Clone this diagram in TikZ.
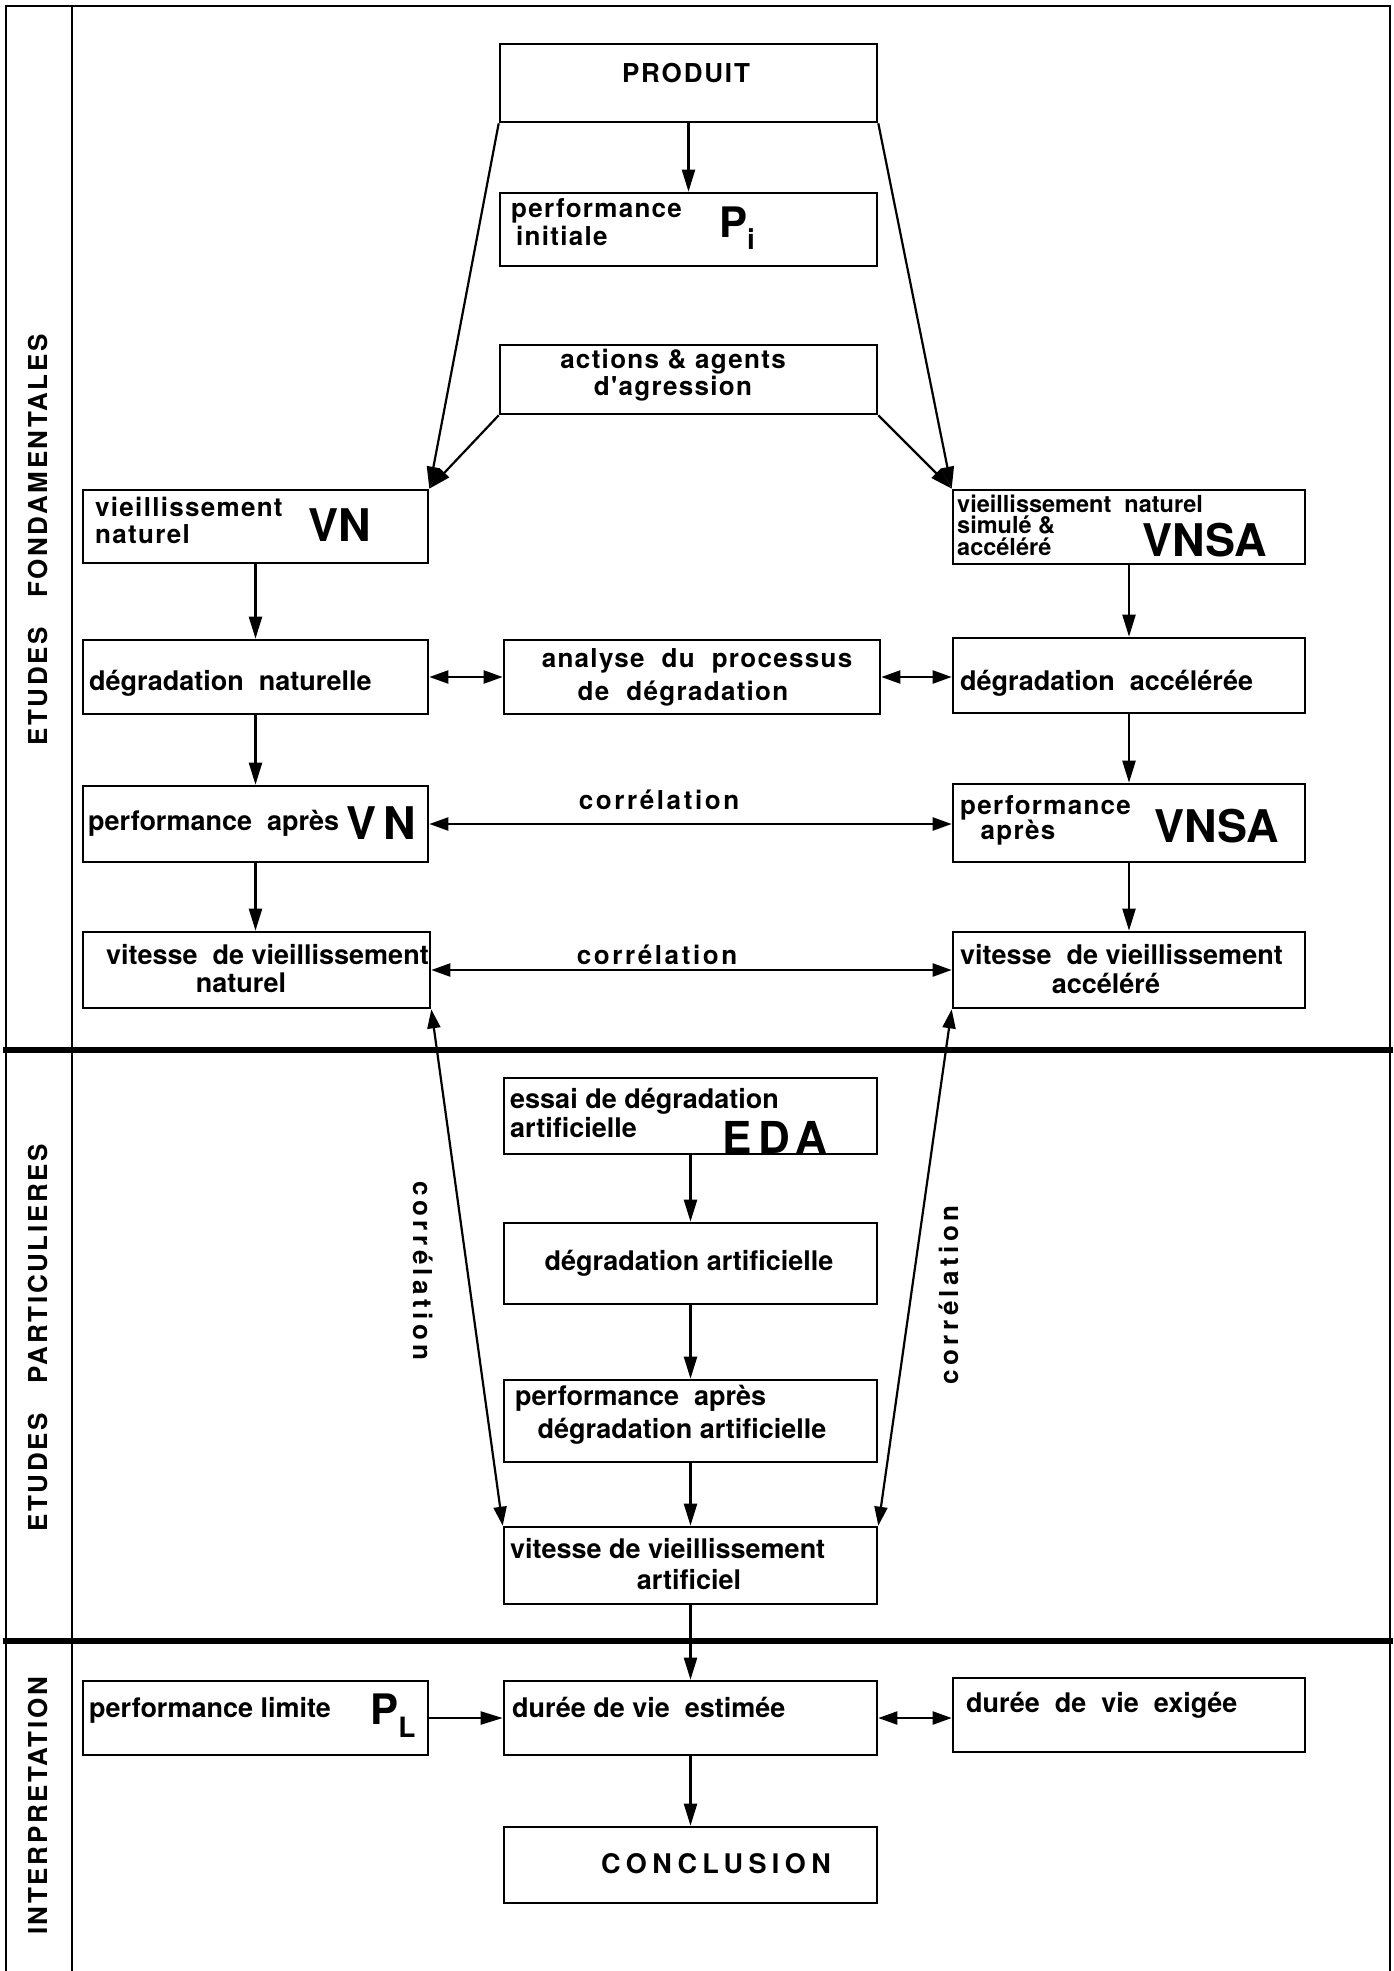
\documentclass[tikz,border=0pt]{standalone}
\usepackage{fontspec}
\setmainfont{TeX Gyre Heros}
\newfontfamily\hvsp{TeX Gyre Heros}[LetterSpace=5]
\newfontfamily\hvcor{TeX Gyre Heros}[LetterSpace=10]
\newfontfamily\hvrot{TeX Gyre Heros}[LetterSpace=17]
\newfontfamily\hvside{TeX Gyre Heros}[LetterSpace=10]
\newfontfamily\hvprod{TeX Gyre Heros}[LetterSpace=7]
\newfontfamily\hveda{TeX Gyre Heros}[LetterSpace=16]
\newfontfamily\hvconc{TeX Gyre Heros}[LetterSpace=20]
\usetikzlibrary{arrows.meta}
\newcommand\mybox[5]{%
  \node[box, minimum width={#4-#2}, minimum height={#5-#3}] (#1) at ({(#2+#4)/2},{(#3+#5)/2}) {};}
\tikzset{
  box/.style={draw, line width=2.6pt, inner sep=0pt},
  tx/.style={inner sep=0pt, font=\fontsize{27}{28}\selectfont\bfseries, align=left},
  txs/.style={inner sep=0pt, font=\hvsp\fontsize{26}{27}\selectfont\bfseries, align=left},
  txv/.style={inner sep=0pt, font=\fontsize{23.5}{23.5}\selectfont\bfseries, anchor=west},
  cor/.style={inner sep=0pt, font=\hvcor\fontsize{26}{27}\selectfont\bfseries},
  rcor/.style={inner sep=0pt, font=\hvrot\fontsize{26}{27}\selectfont\bfseries},
  big/.style={inner sep=0pt, font=\fontsize{45}{45}\selectfont\bfseries},
  side/.style={inner sep=0pt, font=\hvside\fontsize{26}{26}\selectfont\bfseries, rotate=90},
  arr/.style={line width=2.2pt, -{Triangle[length=22pt,width=13pt]}},
  darr/.style={line width=2.2pt, {Triangle[length=19pt,width=13pt]}-{Triangle[length=19pt,width=13pt]}},
  frame/.style={line width=2.6pt},
  sep/.style={line width=6pt},
}
\begin{document}
\begin{tikzpicture}[x=1pt,y=-1pt]
\useasboundingbox (0,0) rectangle (1394,1971);
% frame
\draw[frame] (6,1971) -- (6,6) -- (1390,6) -- (1390,1971);
\draw[frame] (72,6) -- (72,1971);
\draw[sep] (3,1050) -- (1393,1050);
\draw[sep] (3,1641) -- (1393,1641);
% side labels
\node[side] (s1) at (38,540) {ETUDES\hspace{30pt}FONDAMENTALES};
\node[side] (s2) at (38,1338) {ETUDES\hspace{30pt}PARTICULIERES};
\node[side] (s3) at (38,1806) {INTERPRETATION};
% boxes
\mybox{prod}{500}{44}{877}{122}
\mybox{pi}{500}{193}{877}{266}
\mybox{act}{500}{345}{877}{414}
\mybox{vn}{83}{490}{428}{563}
\mybox{vnsa}{953}{490}{1305}{564}
\mybox{dn}{83}{640}{428}{714}
\mybox{an}{504}{640}{880}{714}
\mybox{da}{953}{638}{1305}{713}
\mybox{pvn}{83}{786}{428}{862}
\mybox{pvnsa}{953}{784}{1305}{862}
\mybox{vitn}{83}{932}{430}{1008}
\mybox{vita}{953}{932}{1305}{1008}
\mybox{eda}{504}{1078}{877}{1154}
\mybox{dart}{504}{1223}{877}{1304}
\mybox{part}{504}{1380}{877}{1462}
\mybox{vart}{504}{1527}{877}{1604}
\mybox{pl}{83}{1681}{428}{1755}
\mybox{est}{504}{1681}{877}{1755}
\mybox{exi}{953}{1678}{1305}{1752}
\mybox{conc}{504}{1827}{877}{1903}
% texts
\node[inner sep=0pt, font=\hvprod\fontsize{26}{26}\selectfont\bfseries] (tprod) at (686,73) {PRODUIT};
\node[txs, anchor=west] (tpi1) at (511,211) {performance};
\node[txs, anchor=west] (tpi2) at (516,236) {initiale};
\node[big, font=\fontsize{42}{42}\selectfont\bfseries] (tpi3) at (737,228) {P\raisebox{-12pt}{\fontsize{28}{28}\selectfont i}};
\node[txs, align=center] (tact) at (673,375) {actions\,\,\&\,\,agents\\d'agression};
\node[txs, anchor=west] (tvn1) at (95,507) {vieillissement};
\node[txs, anchor=west] (tvn2) at (95,534) {naturel};
\node[big] (tvn3) at (340,525) {VN};
\node[txv] (tvs1) at (957,504) {vieillissement\ \ naturel};
\node[txv] (tvs2) at (957,525) {simulé \&};
\node[txv] (tvs3) at (957,547) {accéléré};
\node[big] (tvs4) at (1205,540) {VNSA};
\node[tx, anchor=west] (tdn) at (89,683) {dégradation\ \ naturelle};
\node[txs] (tan1) at (697,661) {analyse\ \ du\ \ processus};
\node[txs] (tan2) at (683,694) {de\ \ dégradation};
\node[tx, anchor=west] (tda) at (960,683) {dégradation\ \ accélérée};
\node[tx, anchor=west] (tpvn) at (88,823) {performance\ \ après};
\node[big] (tpvn2) at (381,823) {V\,N};
\node[txs, anchor=west] (tpvs1) at (960,808) {performance};
\node[txs] (tpvs2) at (1018,833) {après};
\node[big] (tpvs3) at (1217,826) {VNSA};
\node[cor] (tc1) at (659,800) {corrélation};
\node[cor] (tc2) at (657,955) {corrélation};
\node[tx, anchor=west] (tvitn1) at (106,955) {vitesse\ \ de\ vieillissement};
\node[tx] (tvitn2) at (241,983) {naturel};
\node[tx, anchor=west] (tvita1) at (960,955) {vitesse\ \ de\ vieillissement};
\node[tx] (tvita2) at (1106,983) {accéléré};
\node[tx, anchor=west] (teda1) at (510,1101) {essai de dégradation};
\node[tx, anchor=west] (teda2) at (510,1128) {artificielle};
\node[inner sep=0pt, font=\hveda\fontsize{44}{44}\selectfont\bfseries] (teda3) at (775,1137) {EDA};
\node[tx] (tdart) at (689,1263) {dégradation artificielle};
\node[tx, anchor=west] (tpart1) at (515,1398) {performance\ \ après};
\node[tx] (tpart2) at (682,1431) {dégradation artificielle};
\node[tx, anchor=west] (tvart1) at (510,1549) {vitesse de vieillissement};
\node[tx] (tvart2) at (689,1580) {artificiel};
\node[tx, anchor=west] (tpl1) at (89,1710) {performance limite};
\node[big, font=\fontsize{42}{42}\selectfont\bfseries] (tpl2) at (393,1716) {P\raisebox{-13pt}{\fontsize{28}{28}\selectfont L}};
\node[tx, anchor=west] (test) at (512,1707) {durée de vie\ \ estimée};
\node[tx, anchor=west] (texi) at (966,1705) {durée\ \ de\ \ vie\ \ exigée};
\node[inner sep=0pt, font=\hvconc\fontsize{27}{27}\selectfont\bfseries] (tconc) at (716,1864) {CONCLUSION};
\node[rcor, rotate=-90] (tc3) at (423,1271) {corrélation};
\node[rcor, rotate=90] (tc4) at (949,1295) {corrélation};
% arrows
\draw[arr] (prod.south) -- (pi.north);
\draw[arr] (prod.south west) -- (vn.north east);
\draw[arr] (act.south west) -- (vn.north east);
\draw[arr] (prod.south east) -- (vnsa.north west);
\draw[arr] (act.south east) -- (vnsa.north west);
\draw[arr] (vn.south) -- (dn.north);
\draw[arr] (dn.south) -- (pvn.north);
\draw[arr] (pvn.south) -- (pvn.south |- vitn.north);
\draw[arr] (vnsa.south) -- (da.north);
\draw[arr] (da.south) -- (da.south |- pvnsa.north);
\draw[arr] (pvnsa.south) -- (vita.north);
\draw[darr] (dn.east) -- (an.west);
\draw[darr] (an.east) -- (an.east -| da.west);
\draw[darr] (pvn.east) -- (pvn.east -| pvnsa.west);
\draw[darr] (vitn.east) -- (vitn.east -| vita.west);
\draw[darr] (vitn.south east) -- (vart.north west);
\draw[darr] (vita.south west) -- (vart.north east);
\draw[arr] (eda.south) -- (dart.north);
\draw[arr] (dart.south) -- (part.north);
\draw[arr] (part.south) -- (vart.north);
\draw[arr] (vart.south) -- (est.north);
\draw[arr] (pl.east) -- (pl.east -| est.west);
\draw[darr] (est.east) -- (est.east -| exi.west);
\draw[arr] (est.south) -- (conc.north);
\end{tikzpicture}
\end{document}
